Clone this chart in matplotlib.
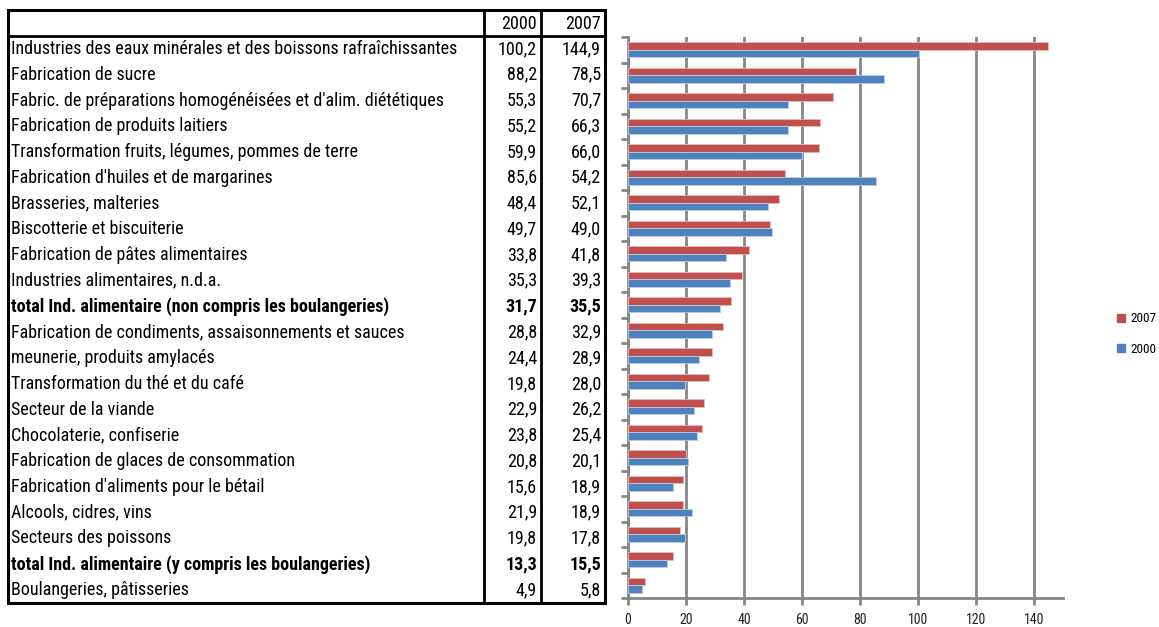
import matplotlib
matplotlib.use("Agg")
import matplotlib.pyplot as plt
from matplotlib import font_manager
from matplotlib.patches import Patch

labels = [
    "Industries des eaux minérales et des boissons rafraîchissantes",
    "Fabrication de sucre",
    "Fabric. de préparations homogénéisées et d'alim. diététiques",
    "Fabrication de produits laitiers",
    "Transformation fruits, légumes, pommes de terre",
    "Fabrication d'huiles et de margarines",
    "Brasseries, malteries",
    "Biscotterie et biscuiterie",
    "Fabrication de pâtes alimentaires",
    "Industries alimentaires, n.d.a.",
    "total Ind. alimentaire (non compris les boulangeries)",
    "Fabrication de condiments, assaisonnements et sauces",
    "meunerie, produits amylacés",
    "Transformation du thé et du café",
    "Secteur de la viande",
    "Chocolaterie, confiserie",
    "Fabrication de glaces de consommation",
    "Fabrication d'aliments pour le bétail",
    "Alcools, cidres, vins",
    "Secteurs des poissons",
    "total Ind. alimentaire (y compris les boulangeries)",
    "Boulangeries, pâtisseries",
]
v2000 = [100.2, 88.2, 55.3, 55.2, 59.9, 85.6, 48.4, 49.7, 33.8, 35.3, 31.7,
         28.8, 24.4, 19.8, 22.9, 23.8, 20.8, 15.6, 21.9, 19.8, 13.3, 4.9]
v2007 = [144.9, 78.5, 70.7, 66.3, 66.0, 54.2, 52.1, 49.0, 41.8, 39.3, 35.5,
         32.9, 28.9, 28.0, 26.2, 25.4, 20.1, 18.9, 18.9, 17.8, 15.5, 5.8]
bold_rows = [10, 20]
years = ["2000", "2007"]
xticks = [0, 20, 40, 60, 80, 100, 120, 140]

# Arial Narrow look-alike if there is one
available = {f.name for f in font_manager.fontManager.ttflist}
FONT = "Liberation Sans"
fs = 11
for cand, size in [("Roboto Condensed", 13), ("Archivo Narrow", 13),
                   ("PT Sans Narrow", 13.5)]:
    if cand in available:
        FONT, fs = cand, size
        break
plt.rcParams["font.family"] = [FONT, "DejaVu Sans"]

RED = "#C0504D"
BLUE = "#4F81BD"
GRID = "#868686"

W, H = 1159, 627
fig = plt.figure(figsize=(W / 100, H / 100), dpi=100)

# ---- table, drawn in pixel coordinates ----
tab = fig.add_axes([0, 0, 1, 1])
tab.set_xlim(0, W)
tab.set_ylim(H, 0)
tab.axis("off")

left, right, top, bottom = 8, 605, 10, 603
col1, col2 = 484, 541
tab.plot([left, right, right, left, left], [top, top, bottom, bottom, top],
         color="black", lw=2.2, solid_joinstyle="miter")
tab.plot([left, right], [36, 36], color="black", lw=2)
tab.plot([col1, col1], [top, bottom], color="black", lw=2)
tab.plot([col2, col2], [top, bottom], color="black", lw=2)

x2000, x2007 = 537, 601
tab.text(x2000, 24, years[0], ha="right", va="center", fontsize=fs)
tab.text(x2007, 24, years[1], ha="right", va="center", fontsize=fs)
row0, step = 49, (590 - 49) / 21
for i, lab in enumerate(labels):
    y = row0 + i * step
    w = "bold" if i in bold_rows else "normal"
    tab.text(11, y, lab, ha="left", va="center", fontsize=fs, fontweight=w)
    tab.text(x2000, y, f"{v2000[i]:.1f}".replace(".", ","), ha="right",
             va="center", fontsize=fs, fontweight=w)
    tab.text(x2007, y, f"{v2007[i]:.1f}".replace(".", ","), ha="right",
             va="center", fontsize=fs, fontweight=w)

# ---- bar chart ----
ax = fig.add_axes([628 / W, 1 - 598 / H, 435 / W, 561 / H])
n = len(labels)
pos = list(range(n))
h = 0.29
ax.barh([p - h / 2 for p in pos], v2007, height=h, color=RED,
        edgecolor="#E6B9B8", linewidth=0.6, zorder=3)
ax.barh([p + h / 2 for p in pos], v2000, height=h, color=BLUE,
        edgecolor="#B9CDE5", linewidth=0.6, zorder=3)
ax.set_ylim(n - 0.5, -0.5)
ax.set_xlim(0, 150)
ax.set_xticks(xticks)
ax.set_yticks([p - 0.5 for p in pos] + [n - 0.5])
ax.set_yticklabels([])
ax.grid(axis="x", color=GRID, lw=2, zorder=0)
for s in ["top", "right"]:
    ax.spines[s].set_visible(False)
for s in ["left", "bottom"]:
    ax.spines[s].set_color(GRID)
    ax.spines[s].set_linewidth(2)
ax.tick_params(axis="both", direction="out", length=5, width=2, color=GRID)
ax.tick_params(axis="x", labelsize=10, pad=6, labelcolor="#222222")

fig.legend([Patch(color=RED), Patch(color=BLUE)], ["2007", "2000"],
           loc="center left", bbox_to_anchor=(1108 / W, 1 - 334 / H),
           frameon=False, fontsize=9.5, handlelength=0.6, handleheight=0.6,
           handletextpad=0.4, labelspacing=1.3, borderpad=0.2)

fig.savefig("out.png", dpi=100)
